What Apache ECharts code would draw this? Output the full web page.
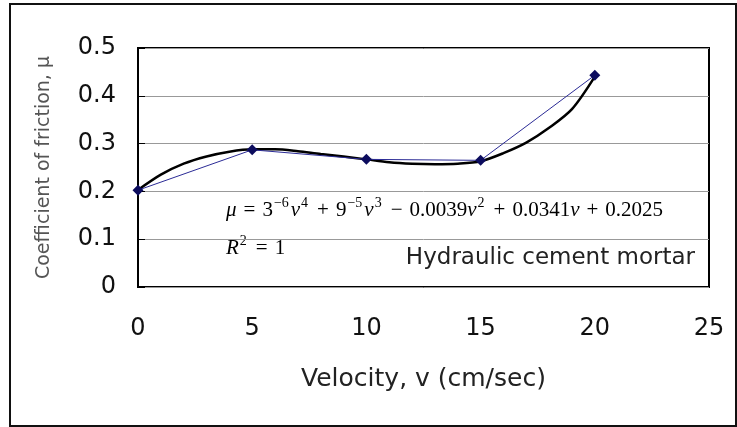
<!DOCTYPE html>
<html>
<head>
<meta charset="utf-8">
<script src="https://cdn.jsdelivr.net/npm/echarts@6/dist/echarts.min.js"></script>
<style>
  html, body { margin: 0; padding: 0; background: #fff; }
  #chart { width: 737px; height: 427px; }
</style>
</head>
<body>
<div id="chart"></div>
<script>
// Measured friction coefficient vs. sliding velocity
const velocity = [0, 5, 10, 15, 20];
const friction = [0.2025, 0.287, 0.267, 0.265, 0.443];

// 4th-order polynomial trendline as drawn (sampled at 1 cm/sec steps)
const trendVelocity = [0, 1, 2, 3, 4, 5, 6, 7, 8, 9, 10, 11, 12, 13, 14, 15, 16, 17, 18, 19, 20];
const trendFriction = [0.203, 0.235, 0.258, 0.273, 0.283, 0.288, 0.288, 0.284, 0.278, 0.273,
                       0.267, 0.261, 0.258, 0.257, 0.258, 0.263, 0.280, 0.302, 0.333, 0.372, 0.440];

// Axis ticks
const xTicks = [0, 5, 10, 15, 20, 25];
const yTicks = [0, 0.1, 0.2, 0.3, 0.4, 0.5];

const chart = echarts.init(document.getElementById('chart'), null, { renderer: 'canvas' });

const sans = '"DejaVu Sans", Verdana, sans-serif';
const serif = '"Liberation Serif", "Times New Roman", serif';

// Rich-text styles for the regression equation
const eqRich = {
  n: { fontFamily: serif, fontSize: 21, color: '#111', verticalAlign: 'middle' },
  o: { fontFamily: serif, fontSize: 21, color: '#111', verticalAlign: 'middle', padding: [0, 7, 0, 7] },
  i: { fontFamily: serif, fontStyle: 'italic', fontSize: 21, color: '#111', verticalAlign: 'middle' },
  s: { fontFamily: serif, fontSize: 14, color: '#111', verticalAlign: 'middle', padding: [0, 2, 15, 1] }
};

chart.setOption({
  animation: false,
  backgroundColor: '#fff',
  grid: {
    left: 138, top: 48, right: 28, bottom: 140,
    show: true, borderColor: '#000', borderWidth: 2, backgroundColor: '#fff'
  },
  xAxis: {
    type: 'value',
    min: xTicks[0], max: xTicks[xTicks.length - 1], interval: xTicks[1] - xTicks[0],
    name: 'Velocity, v (cm/sec)',
    nameLocation: 'middle', nameGap: 80,
    nameTextStyle: { fontFamily: sans, fontSize: 25, color: '#222' },
    axisLine: { show: false },
    axisTick: { show: false },
    splitLine: { show: false },
    axisLabel: { fontFamily: sans, fontSize: 24, color: '#111', margin: 30 }
  },
  yAxis: {
    type: 'value',
    min: yTicks[0], max: yTicks[yTicks.length - 1], interval: yTicks[1] - yTicks[0],
    name: 'Coefficient of friction, μ',
    nameLocation: 'middle', nameGap: 84,
    nameTextStyle: { fontFamily: sans, fontSize: 19, color: '#555' },
    axisLine: { show: false },
    axisTick: { show: true, inside: true, length: 7, lineStyle: { color: '#000', width: 1 } },
    splitLine: { show: true, lineStyle: { color: '#999', width: 1 } },
    axisLabel: { fontFamily: sans, fontSize: 24, color: '#111', margin: 22 }
  },
  series: [
    {
      name: 'Poly. trend',
      type: 'line',
      data: trendVelocity.map((v, i) => [v, trendFriction[i]]),
      smooth: 0.3,
      showSymbol: false,
      lineStyle: { color: '#000', width: 2.5 },
      z: 2
    },
    {
      name: 'Hydraulic cement mortar',
      type: 'line',
      data: velocity.map((v, i) => [v, friction[i]]),
      symbol: 'diamond',
      symbolSize: 11,
      itemStyle: { color: '#0c0c5e' },
      lineStyle: { color: '#2b2b96', width: 1 },
      z: 3
    }
  ],
  graphic: [
    {
      type: 'rect',
      shape: { x: 10, y: 4, width: 726, height: 422 },
      style: { fill: null, stroke: '#111', lineWidth: 2 },
      silent: true
    },
    {
      type: 'text',
      left: 226, top: 196,
      style: {
        text: '{i|μ}{o|=}{n|3}{s|−6}{i|ν}{s|4}{o|+}{n|9}{s|−5}{i|ν}{s|3}{o|−}{n|0.0039}{i|ν}{s|2}{o|+}{n|0.0341}{i|ν}{o|+}{n|0.2025}',
        rich: eqRich
      }
    },
    {
      type: 'text',
      left: 226, top: 234,
      style: { text: '{i|R}{s|2}{o|=}{n|1}', rich: eqRich }
    },
    {
      type: 'text',
      right: 42, top: 247,
      style: { text: 'Hydraulic cement mortar', fontFamily: sans, fontSize: 23, fill: '#222' }
    }
  ]
});
</script>
</body>
</html>
